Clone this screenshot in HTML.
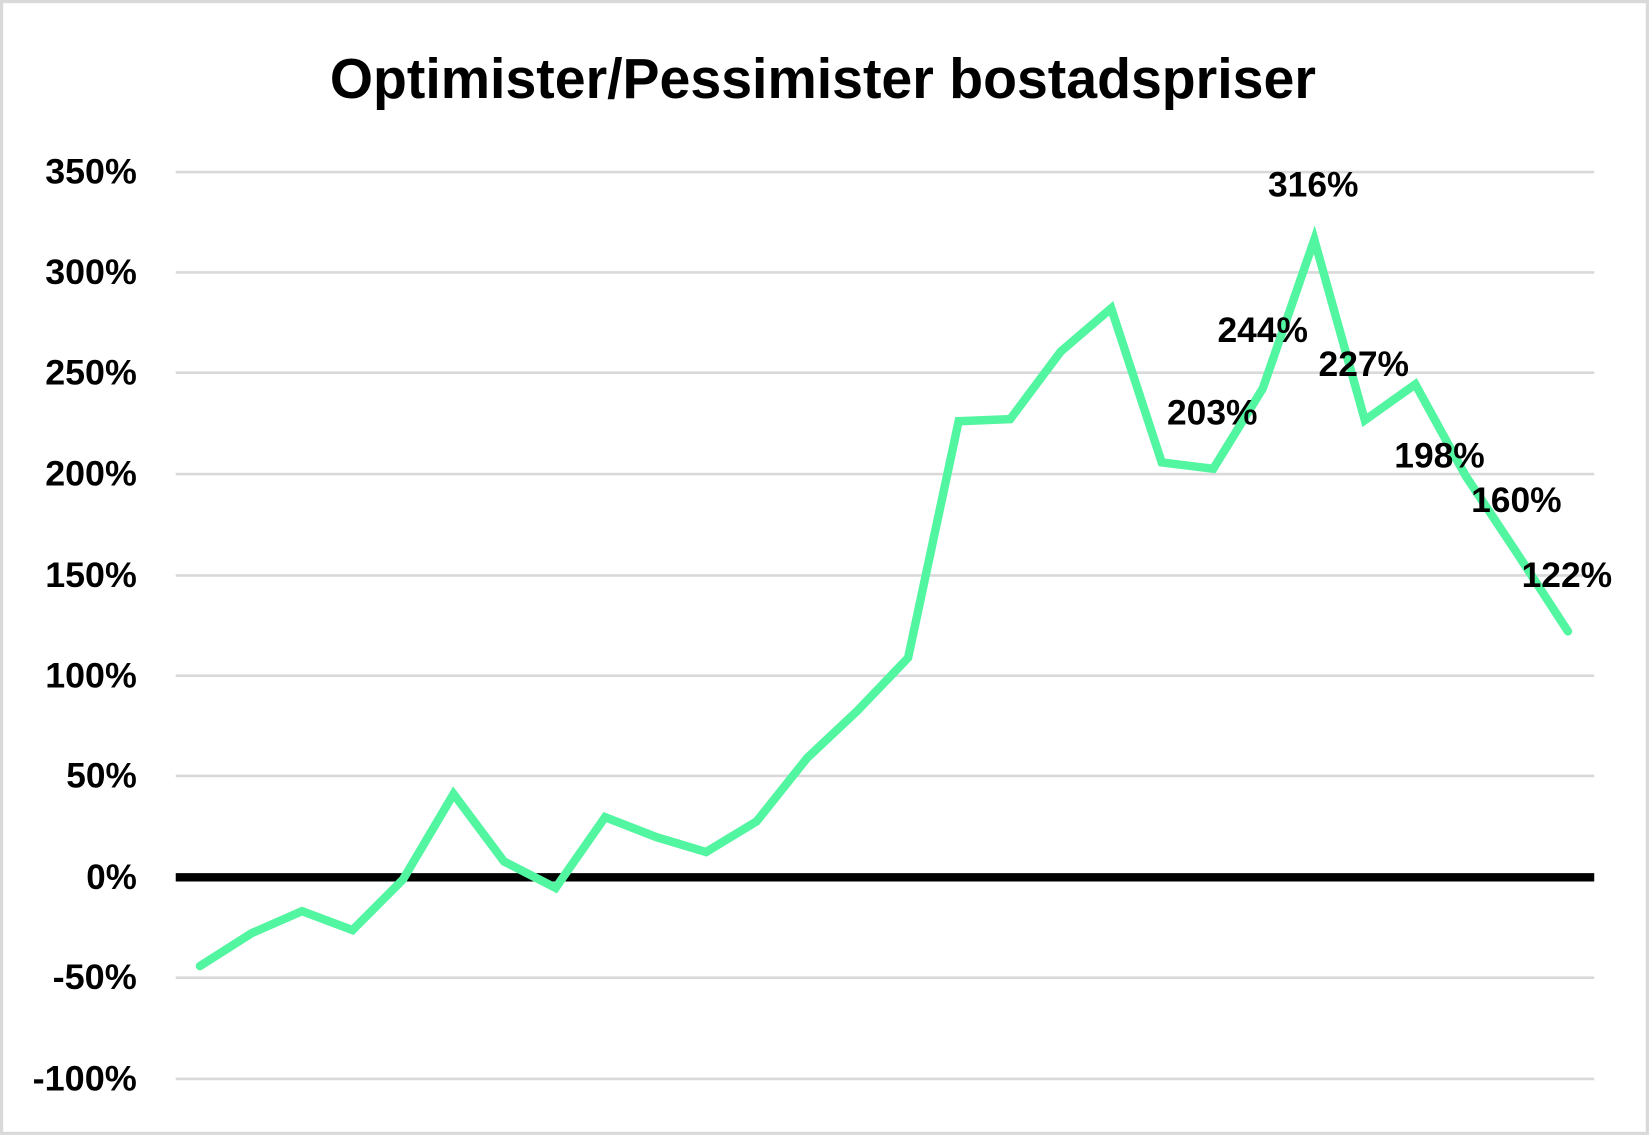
<!DOCTYPE html>
<html><head><meta charset="utf-8"><style>
html,body{margin:0;padding:0;background:#fff;}
svg{display:block;width:1650px;height:1136px;}
text{font-family:"Liberation Sans",sans-serif;font-weight:bold;fill:#000;}
</style></head><body>
<svg viewBox="0 0 1568 1076" preserveAspectRatio="none">
<rect x="1.5" y="1.5" width="1564" height="1072" fill="#fff" stroke="#d9d9d9" stroke-width="3"/>
<text x="782" y="93" font-size="54" text-anchor="middle" textLength="937" lengthAdjust="spacingAndGlyphs">Optimister/Pessimister bostadspriser</text>
<g stroke="#d9d9d9" stroke-width="2.5">
<line x1="167" x2="1515" y1="163" y2="163"/>
<line x1="167" x2="1515" y1="258" y2="258"/>
<line x1="167" x2="1515" y1="353" y2="353"/>
<line x1="167" x2="1515" y1="449" y2="449"/>
<line x1="167" x2="1515" y1="545" y2="545"/>
<line x1="167" x2="1515" y1="640" y2="640"/>
<line x1="167" x2="1515" y1="735" y2="735"/>
<line x1="167" x2="1515" y1="926" y2="926"/>
<line x1="167" x2="1515" y1="1022" y2="1022"/>
</g>
<line x1="167" x2="1515" y1="831" y2="831" stroke="#000" stroke-width="8"/>
<g font-size="33" text-anchor="end" lengthAdjust="spacingAndGlyphs">
<text x="130" y="174" textLength="87" lengthAdjust="spacingAndGlyphs">350%</text>
<text x="130" y="269" textLength="87" lengthAdjust="spacingAndGlyphs">300%</text>
<text x="130" y="364" textLength="87" lengthAdjust="spacingAndGlyphs">250%</text>
<text x="130" y="460" textLength="87" lengthAdjust="spacingAndGlyphs">200%</text>
<text x="130" y="556" textLength="87" lengthAdjust="spacingAndGlyphs">150%</text>
<text x="130" y="651" textLength="87" lengthAdjust="spacingAndGlyphs">100%</text>
<text x="130" y="746" textLength="67" lengthAdjust="spacingAndGlyphs">50%</text>
<text x="130" y="842" textLength="48" lengthAdjust="spacingAndGlyphs">0%</text>
<text x="130" y="937" textLength="80" lengthAdjust="spacingAndGlyphs">-50%</text>
<text x="130" y="1033" textLength="99" lengthAdjust="spacingAndGlyphs">-100%</text>
</g>
<polyline fill="none" stroke="#52f5a0" stroke-width="8" stroke-linejoin="miter" stroke-linecap="round" points="190,915 239,884 287,863 335,881 383,833 431,752 479,816 528,841 575,774 624,793 671,807 719,778 767,718 815,673 863,623 911,399 960,397 1008,333 1056,292 1104,438 1153,444 1200,368 1249,227 1297,398 1345,364 1393,451 1441,523 1490,598"/>
<g font-size="33" text-anchor="middle">
<text x="1248" y="186" textLength="86" lengthAdjust="spacingAndGlyphs">316%</text>
<text x="1200" y="324" textLength="86" lengthAdjust="spacingAndGlyphs">244%</text>
<text x="1296" y="356" textLength="86" lengthAdjust="spacingAndGlyphs">227%</text>
<text x="1152" y="402" textLength="86" lengthAdjust="spacingAndGlyphs">203%</text>
<text x="1368" y="443" textLength="86" lengthAdjust="spacingAndGlyphs">198%</text>
<text x="1441" y="485" textLength="86" lengthAdjust="spacingAndGlyphs">160%</text>
<text x="1489" y="556" textLength="86" lengthAdjust="spacingAndGlyphs">122%</text>
</g>
</svg>
</body></html>
